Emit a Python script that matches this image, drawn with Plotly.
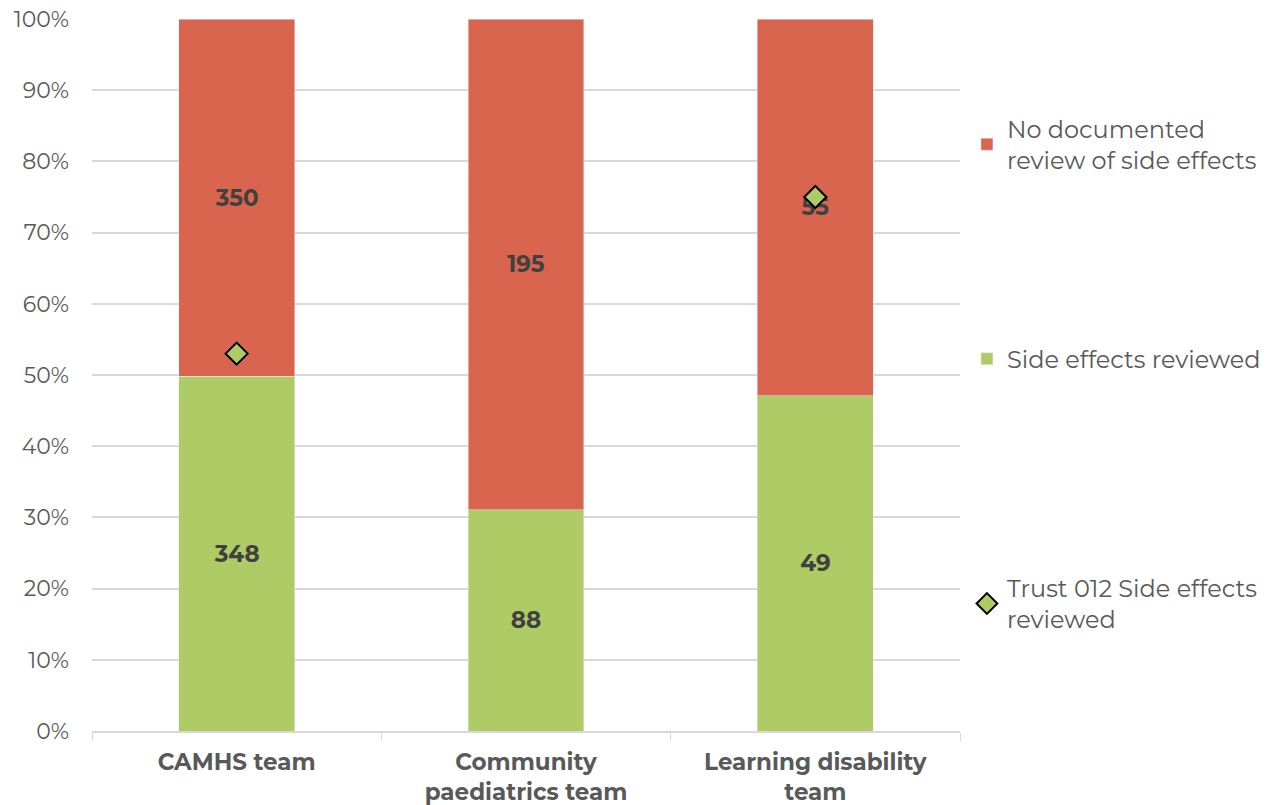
import plotly.graph_objects as go

categories = ["CAMHS team", "Community<br>paediatrics team", "Learning disability<br>team"]
reviewed = [348, 88, 49]
not_reviewed = [350, 195, 55]
trust_pct = [53, None, 75]
y_ticks = [0, 10, 20, 30, 40, 50, 60, 70, 80, 90, 100]
y_tick_labels = [f"{v}%" for v in y_ticks]

totals = [a + b for a, b in zip(reviewed, not_reviewed)]
reviewed_pct = [100 * a / t for a, t in zip(reviewed, totals)]
not_reviewed_pct = [100 * b / t for b, t in zip(not_reviewed, totals)]

FONT = "Montserrat, 'Open Sans', sans-serif"
RED = "#D9654F"
GREEN = "#AECB65"
GREY = "#595959"

fig = go.Figure()
fig.add_trace(go.Bar(
    x=categories, y=reviewed_pct, name="Side effects reviewed",
    marker_color=GREEN, text=reviewed, texttemplate="<b>%{text}</b>",
    textposition="inside", insidetextanchor="middle",
    textfont=dict(size=23, color="#404040", family=FONT),
    legend="legend2", width=0.4, hoverinfo="skip", showlegend=True,
))
fig.add_trace(go.Bar(
    x=categories, y=not_reviewed_pct, name="No documented<br>review of side effects",
    marker_color=RED, text=not_reviewed, texttemplate="<b>%{text}</b>",
    textposition="inside", insidetextanchor="middle",
    textfont=dict(size=23, color="#404040", family=FONT),
    legend="legend", width=0.4, hoverinfo="skip", showlegend=True,
))
fig.add_trace(go.Scatter(
    x=categories, y=trust_pct, mode="markers", name="Trust 012 Side effects<br>reviewed",
    marker=dict(symbol="diamond", size=17, color=GREEN, line=dict(color="black", width=2)),
    legend="legend3", showlegend=True,
))

legend_common = dict(font=dict(size=24, color=GREY, family=FONT), bgcolor="rgba(0,0,0,0)",
                     xanchor="left", yanchor="top", itemwidth=30)
fig.update_layout(
    barmode="stack", showlegend=True,
    width=1272, height=805,
    margin=dict(l=92, r=312, t=19, b=74, autoexpand=False),
    plot_bgcolor="white", paper_bgcolor="white",
    font=dict(family=FONT, color=GREY),
    legend=dict(x=1.008, y=0.877, **legend_common),
    legend2=dict(x=1.008, y=0.554, **legend_common),
    legend3=dict(x=1.008, y=0.232, **legend_common),
    xaxis=dict(
        type="category", tickson="boundaries", ticks="outside", ticklen=8,
        tickcolor="#d9d9d9", showline=True, linecolor="#d9d9d9", linewidth=2,
        tickfont=dict(size=23, color=GREY, family=FONT),
        ticktext=["<b>" + c + "</b>" for c in categories], tickvals=categories,
        showgrid=False, automargin=False, ticklabelstandoff=9,
    ),
    yaxis=dict(
        range=[0, 100], tickmode="array", tickvals=y_ticks, ticktext=y_tick_labels,
        autorange=False, automargin=False,
        showgrid=True, gridcolor="#d9d9d9", gridwidth=2,
        tickfont=dict(size=22, color=GREY, family=FONT),
        ticklabelstandoff=22, zeroline=False,
    ),
)
fig.write_html("out.html")
